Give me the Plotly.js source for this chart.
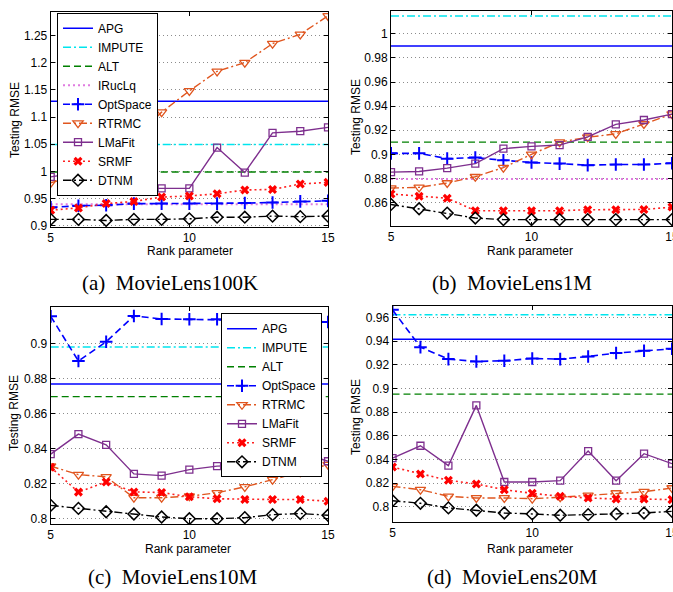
<!DOCTYPE html>
<html><head><meta charset="utf-8">
<script src="https://cdn.plot.ly/plotly-3.0.1.min.js"></script>
<style>html,body{margin:0;padding:0;background:#fff}#chart{width:673px;height:592px}</style>
</head><body><div id="chart"></div>
<script>
const ranks = [5,6,7,8,9,10,11,12,13,14,15];
const xTicks = [5,10,15];
const xTickText = ['5','10','15'];

// (a) MovieLens100K
const a_APG = 1.129, a_IMPUTE = 1.0495, a_ALT = 0.999, a_IRucLq = 0.940;
const a_OptSpace = [0.934,0.937,0.938,0.941,0.941,0.941,0.941,0.942,0.943,0.945,0.946];
const a_RTRMC   = [0.979,0.994,1.010,1.060,1.109,1.148,1.184,1.200,1.235,1.252,1.286];
const a_LMaFit  = [0.990,0.998,0.986,0.969,0.969,0.969,1.044,0.998,1.071,1.074,1.081];
const a_SRMF    = [0.929,0.933,0.941,0.945,0.953,0.955,0.959,0.966,0.967,0.977,0.980];
const a_DTNM    = [0.912,0.912,0.910,0.912,0.912,0.913,0.916,0.916,0.918,0.917,0.918];
const a_yTicks = [0.9,0.95,1,1.05,1.1,1.15,1.2,1.25];
const a_yTickText = ['0.9','0.95','1','1.05','1.1','1.15','1.2','1.25'];

// (b) MovieLens1M
const b_APG = 0.9899, b_IMPUTE = 1.0148, b_ALT = 0.9101, b_IRucLq = 0.8795;
const b_OptSpace = [0.9008,0.9008,0.8964,0.8973,0.8951,0.8932,0.8923,0.8910,0.8915,0.8915,0.8926];
const b_RTRMC   = [0.8720,0.8726,0.8762,0.8814,0.8890,0.9000,0.9101,0.9142,0.9170,0.9252,0.9334];
const b_LMaFit  = [0.8852,0.8858,0.8885,0.8923,0.9047,0.9066,0.9077,0.9145,0.9249,0.9285,0.9334];
const b_SRMF    = [0.8671,0.8652,0.8636,0.8532,0.8532,0.8532,0.8532,0.8540,0.8540,0.8542,0.8562];
const b_DTNM    = [0.8584,0.8548,0.8512,0.8471,0.8458,0.8458,0.8458,0.8458,0.8458,0.8458,0.8458];
const b_yTicks = [0.84,0.86,0.88,0.9,0.92,0.94,0.96,0.98,1];
const b_yTickText = ['0.84','0.86','0.88','0.9','0.92','0.94','0.96','0.98','1'];

// (c) MovieLens10M
const c_APG = 0.8769, c_IMPUTE = 0.898, c_ALT = 0.8697;
const c_OptSpace = [0.9155,0.8900,0.9010,0.9157,0.9140,0.9138,0.9138,0.9132,0.9130,0.9128,0.9123];
const c_RTRMC   = [0.8300,0.8252,0.8239,0.8120,0.8120,0.8129,0.8148,0.8182,0.8223,0.8265,0.8309];
const c_LMaFit  = [0.8369,0.8483,0.8422,0.8256,0.8246,0.8280,0.8300,0.8305,0.8343,0.8379,0.8328];
const c_SRMF    = [0.8294,0.8152,0.8210,0.8153,0.8150,0.8125,0.8114,0.8110,0.8110,0.8110,0.8100];
const c_DTNM    = [0.8076,0.8059,0.8040,0.8027,0.8010,0.8000,0.8000,0.8006,0.8023,0.8030,0.8020];
const c_yTicks = [0.8,0.82,0.84,0.86,0.88,0.9];
const c_yTickText = ['0.8','0.82','0.84','0.86','0.88','0.9'];

// (d) MovieLens20M
const d_APG = 0.9417, d_IMPUTE = 0.9623, d_ALT = 0.8953;
const d_OptSpace = [0.9665,0.9350,0.9249,0.9229,0.9235,0.9254,0.9249,0.9271,0.9300,0.9319,0.9336];
const d_RTRMC   = [0.8174,0.8146,0.8090,0.8076,0.8076,0.8070,0.8082,0.8098,0.8118,0.8129,0.8160];
const d_LMaFit  = [0.8413,0.8517,0.8349,0.8858,0.8211,0.8211,0.8222,0.8472,0.8222,0.8450,0.8366];
const d_SRMF    = [0.8337,0.8278,0.8225,0.8194,0.8146,0.8115,0.8090,0.8076,0.8067,0.8067,0.8062];
const d_DTNM    = [0.8053,0.8031,0.7992,0.7972,0.7949,0.7941,0.7930,0.7935,0.7941,0.7949,0.7963];
const d_yTicks = [0.8,0.82,0.84,0.86,0.88,0.9,0.92,0.94,0.96];
const d_yTickText = ['0.8','0.82','0.84','0.86','0.88','0.9','0.92','0.94','0.96'];

const DASHDOT = '8px,3px,2px,3px', DASH = '7px,4px', DOT = '2px,3px';
const STYLE = {
  APG:      {color:'#0000ff', dash:'solid', width:1.4},
  IMPUTE:   {color:'#00e5ee', dash:DASHDOT, width:1.4},
  ALT:      {color:'#008000', dash:DASH, width:1.4},
  IRucLq:   {color:'#e07be0', dash:DOT, width:2},
  OptSpace: {color:'#0000ff', dash:DASH, width:1.6, marker:{symbol:'cross-thin-open', size:9, line:{width:2,color:'#0000ff'}}},
  RTRMC:    {color:'#e0561f', dash:DASHDOT, width:1.4, marker:{symbol:'triangle-down-open', size:9, line:{width:1.3,color:'#e0561f'}}},
  LMaFit:   {color:'#7e2f8e', dash:'solid', width:1.4, marker:{symbol:'square-open', size:7, line:{width:1.3,color:'#7e2f8e'}}},
  SRMF:     {color:'#ff2020', dash:DOT, width:1.6, marker:{symbol:'x', size:8, color:'#ff0000', line:{width:0}}},
  DTNM:     {color:'#000000', dash:DASHDOT, width:1.4, marker:{symbol:'diamond-open', size:9, line:{width:1.5,color:'#000000'}}}
};

const traces = [];
function addConst(name, v, ax, leg) {
  const s = STYLE[name];
  traces.push({x:[ranks[0], ranks[ranks.length-1]], y:[v, v], name:name, mode:'lines',
    line:{color:s.color, dash:s.dash, width:s.width}, xaxis:'x'+ax, yaxis:'y'+ax,
    showlegend: !!leg, legend: leg || 'legend', hoverinfo:'skip'});
}
function addSeries(name, ys, ax, leg) {
  const s = STYLE[name];
  traces.push({x:ranks, y:ys, name:name, mode:'lines+markers',
    line:{color:s.color, dash:s.dash, width:s.width}, marker:s.marker,
    xaxis:'x'+ax, yaxis:'y'+ax, showlegend: !!leg, legend: leg || 'legend', cliponaxis:true});
}
// (a)
addConst('APG', a_APG, '', 'legend');
addConst('IMPUTE', a_IMPUTE, '', 'legend');
addConst('ALT', a_ALT, '', 'legend');
addConst('IRucLq', a_IRucLq, '', 'legend');
addSeries('OptSpace', a_OptSpace, '', 'legend');
addSeries('RTRMC', a_RTRMC, '', 'legend');
addSeries('LMaFit', a_LMaFit, '', 'legend');
addSeries('SRMF', a_SRMF, '', 'legend');
addSeries('DTNM', a_DTNM, '', 'legend');
// (b)
addConst('APG', b_APG, '2');
addConst('IMPUTE', b_IMPUTE, '2');
addConst('ALT', b_ALT, '2');
addConst('IRucLq', b_IRucLq, '2');
addSeries('OptSpace', b_OptSpace, '2');
addSeries('RTRMC', b_RTRMC, '2');
addSeries('LMaFit', b_LMaFit, '2');
addSeries('SRMF', b_SRMF, '2');
addSeries('DTNM', b_DTNM, '2');
// (c)
addConst('APG', c_APG, '3', 'legend2');
addConst('IMPUTE', c_IMPUTE, '3', 'legend2');
addConst('ALT', c_ALT, '3', 'legend2');
addSeries('OptSpace', c_OptSpace, '3', 'legend2');
addSeries('RTRMC', c_RTRMC, '3', 'legend2');
addSeries('LMaFit', c_LMaFit, '3', 'legend2');
addSeries('SRMF', c_SRMF, '3', 'legend2');
addSeries('DTNM', c_DTNM, '3', 'legend2');
// (d)
addConst('APG', d_APG, '4');
addConst('IMPUTE', d_IMPUTE, '4');
addConst('ALT', d_ALT, '4');
addSeries('OptSpace', d_OptSpace, '4');
addSeries('RTRMC', d_RTRMC, '4');
addSeries('LMaFit', d_LMaFit, '4');
addSeries('SRMF', d_SRMF, '4');
addSeries('DTNM', d_DTNM, '4');

const W = 673, H = 592;
const FONT = 'Liberation Sans, Arial, sans-serif';
function xax(x0, x1, anchor) {
  return {domain:[x0/W, x1/W], range:[5,15], anchor:anchor, tickmode:'array', tickvals:xTicks, ticktext:xTickText,
    ticks:'inside', ticklen:4, tickcolor:'#000', showline:true, linecolor:'#000', linewidth:1, mirror:'ticks',
    showgrid:false, zeroline:false, ticklabeloverflow:'allow', tickfont:{family:FONT, size:12, color:'#000'}};
}
function yax(y0, y1, range, tv, tt, anchor) {
  return {domain:[1-y1/H, 1-y0/H], range:range, anchor:anchor, tickmode:'array', tickvals:tv, ticktext:tt,
    ticks:'inside', ticklen:4, tickcolor:'#000', showline:true, linecolor:'#000', linewidth:1, mirror:'ticks',
    showgrid:true, gridcolor:'#8c8c8c', griddash:'1px,3px', gridwidth:1, zeroline:false,
    tickfont:{family:FONT, size:12, color:'#000'}};
}
function ann(text, x, y, opts) {
  return Object.assign({text:text, x:x/W, y:1-y/H, xref:'paper', yref:'paper', showarrow:false,
    xanchor:'center', yanchor:'middle', font:{family:FONT, size:12, color:'#000'}}, opts||{});
}
const CAP = {family:'Liberation Serif, Times New Roman, serif', size:21, color:'#000'};

const layout = {
  width:W, height:H, margin:{l:0,r:0,t:0,b:0}, paper_bgcolor:'#fff', plot_bgcolor:'#fff',
  xaxis:  xax(50.7, 328, 'y'),
  yaxis:  yax(12, 227, [0.898, 1.293], a_yTicks, a_yTickText, 'x'),
  xaxis2: xax(391, 672, 'y2'),
  yaxis2: yax(11, 226, [0.8405, 1.019], b_yTicks, b_yTickText, 'x2'),
  xaxis3: xax(50.7, 328, 'y3'),
  yaxis3: yax(306.7, 524, [0.797, 0.921], c_yTicks, c_yTickText, 'x3'),
  xaxis4: xax(392.5, 672, 'y4'),
  yaxis4: yax(305.7, 522, [0.7873, 0.970], d_yTicks, d_yTickText, 'x4'),
  legend: {x:57/W, y:1-12.7/H, xanchor:'left', yanchor:'top', bgcolor:'#fff', bordercolor:'#000', borderwidth:1,
    font:{family:FONT, size:12, color:'#000'}, tracegroupgap:0, itemwidth:30},
  legend2: {x:221/W, y:1-313.3/H, xanchor:'left', yanchor:'top', bgcolor:'#fff', bordercolor:'#000', borderwidth:1,
    font:{family:FONT, size:12, color:'#000'}, tracegroupgap:0, itemwidth:30},
  annotations: [
    ann('Rank parameter', 190, 251), ann('Rank parameter', 530, 251),
    ann('Rank parameter', 188, 549), ann('Rank parameter', 530, 549),
    ann('Testing RMSE', 15, 120, {textangle:-90}), ann('Testing RMSE', 356, 117, {textangle:-90}),
    ann('Testing RMSE', 14, 413, {textangle:-90}), ann('Testing RMSE', 356, 417, {textangle:-90}),
    ann('(a)  MovieLens100K', 170, 283, {font:CAP}), ann('(b)  MovieLens1M', 512, 283, {font:CAP}),
    ann('(c)  MovieLens10M', 172, 577, {font:CAP}), ann('(d)  MovieLens20M', 512, 577, {font:CAP})
  ]
};
Plotly.newPlot('chart', traces, layout, {staticPlot:true});
</script></body></html>
